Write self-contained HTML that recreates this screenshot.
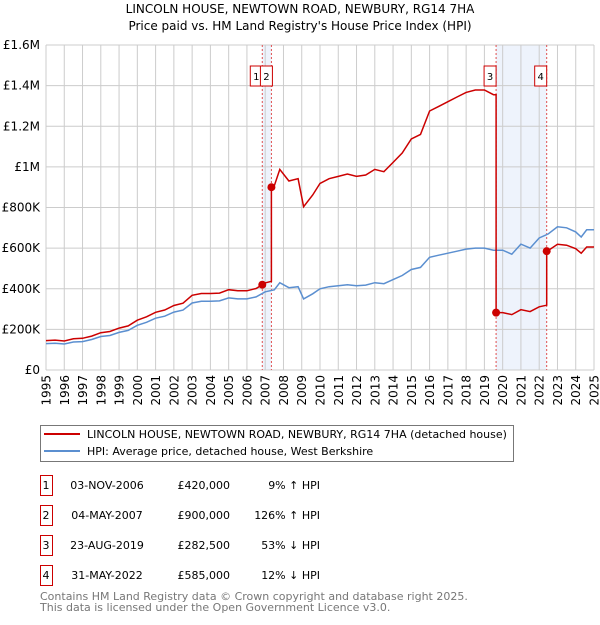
<!DOCTYPE html>
<html><head><meta charset="utf-8"><style>
body{margin:0;width:600px;height:620px;background:#fff;font-family:"Liberation Sans","DejaVu Sans",sans-serif;overflow:hidden}
svg text{font-family:"DejaVu Sans","Liberation Sans",sans-serif}
</style></head><body>
<svg id="c" width="600" height="620">
<text x="300" y="13" text-anchor="middle" font-size="12">LINCOLN HOUSE, NEWTOWN ROAD, NEWBURY, RG14 7HA</text>
<text x="300" y="30" text-anchor="middle" font-size="12">Price paid vs. HM Land Registry's House Price Index (HPI)</text>
<g id="plot"></g>
<g>
<rect x="40.5" y="425.5" width="473" height="36" fill="#fff" stroke="#777"/>
<line x1="44" y1="434" x2="80" y2="434" stroke="#cc0000" stroke-width="2"/>
<text x="87" y="438" font-size="11">LINCOLN HOUSE, NEWTOWN ROAD, NEWBURY, RG14 7HA (detached house)</text>
<line x1="44" y1="451" x2="80" y2="451" stroke="#5b8fd0" stroke-width="2"/>
<text x="87" y="455" font-size="11">HPI: Average price, detached house, West Berkshire</text>
</g>
<g id="tbl" font-size="11"></g>
<text x="40" y="600" font-size="11" fill="#777">Contains HM Land Registry data © Crown copyright and database right 2025.</text>
<text x="40" y="611" font-size="11" fill="#777">This data is licensed under the Open Government Licence v3.0.</text>
</svg>
<script>
const hpiYears=[1995,1995.5,1996,1996.5,1997,1997.5,1998,1998.5,1999,1999.5,2000,2000.5,2001,2001.5,2002,2002.5,2003,2003.5,2004,2004.5,2005,2005.5,2006,2006.5,2007,2007.5,2007.8,2008.3,2008.8,2009.1,2009.6,2010,2010.5,2011,2011.5,2012,2012.5,2013,2013.5,2014,2014.5,2015,2015.5,2016,2016.5,2017,2017.5,2018,2018.5,2019,2019.5,2020,2020.5,2021,2021.5,2022,2022.5,2023,2023.5,2024,2024.3,2024.6,2025];
const hpiValues=[130,132,128,138,140,150,165,170,185,195,220,235,255,265,285,295,330,338,338,340,355,350,350,360,385,395,430,405,410,350,375,400,410,415,420,415,418,430,425,445,465,495,505,555,565,575,585,595,600,600,590,590,570,620,600,650,670,705,700,680,655,690,690];
const saleDates=[2006.84,2007.34,2019.64,2022.41];
const salePrices=[420,900,282.5,585];
const saleLabels=["1","2","3","4"];
const saleDateText=["03-NOV-2006","04-MAY-2007","23-AUG-2019","31-MAY-2022"];
const salePriceText=["£420,000","£900,000","£282,500","£585,000"];
const saleHpiText=["9% ↑ HPI","126% ↑ HPI","53% ↓ HPI","12% ↓ HPI"];
const yTicks=[0,200,400,600,800,1000,1200,1400,1600];
const yTickLabels=["£0","£200K","£400K","£600K","£800K","£1M","£1.2M","£1.4M","£1.6M"];
const xTicks=[1995,1996,1997,1998,1999,2000,2001,2002,2003,2004,2005,2006,2007,2008,2009,2010,2011,2012,2013,2014,2015,2016,2017,2018,2019,2020,2021,2022,2023,2024,2025];

const NS="http://www.w3.org/2000/svg";
const X0=46,X1=594,Y0=370,Y1=45;
const xs=y=>X0+(y-1995)/30*(X1-X0);
const ys=v=>Y0-v/1600*(Y0-Y1);
const plot=document.getElementById('plot');
function mk(tag,attrs,parent){const e=document.createElementNS(NS,tag);for(const k in attrs)e.setAttribute(k,attrs[k]);(parent||plot).appendChild(e);return e;}
function hpiAt(t){for(let i=0;i<hpiYears.length-1;i++){if(t<=hpiYears[i+1]){const f=(t-hpiYears[i])/(hpiYears[i+1]-hpiYears[i]);return hpiValues[i]+f*(hpiValues[i+1]-hpiValues[i]);}}return hpiValues[hpiValues.length-1];}

let sh=mk('rect',{x:xs(saleDates[0]),y:Y1,width:xs(saleDates[1])-xs(saleDates[0]),height:Y0-Y1,fill:'#eef3fc'});


sh=mk('rect',{x:xs(saleDates[2]),y:Y1,width:xs(saleDates[3])-xs(saleDates[2]),height:Y0-Y1,fill:'#eef3fc'});


xTicks.forEach((t,i)=>{
  const g=mk('line',{x1:xs(t),x2:xs(t),y1:Y1,y2:Y0,stroke:'#ccc','stroke-width':1});
  
  
  const tx=mk('text',{x:0,y:0,'font-size':12,'text-anchor':'end',transform:`translate(${xs(t)+4.5},${Y0+5}) rotate(-90)`});
  tx.textContent=t;
  
  
});
yTicks.forEach((v,i)=>{
  const g=mk('line',{x1:X0,x2:X1,y1:ys(v),y2:ys(v),stroke:'#ccc','stroke-width':1});
  
  
  const tx=mk('text',{x:X0-6,y:ys(v)+4,'font-size':12,'text-anchor':'end'});
  tx.textContent=yTickLabels[i];
  
  
});
saleDates.forEach((d,i)=>{
  const l=mk('line',{x1:xs(d),x2:xs(d),y1:Y1,y2:Y0,stroke:'#e05050','stroke-width':1,'stroke-dasharray':'2,2'});
  
  
});
let pts=hpiYears.map((y,i)=>xs(y).toFixed(1)+','+ys(hpiValues[i]).toFixed(1)).join(' ');
let hl=mk('polyline',{points:pts,fill:'none',stroke:'#5b8fd0','stroke-width':1.5});


let rp=[];
function seg(t0,t1,ref,price){
  const samples=[t0].concat(hpiYears.filter(y=>y>t0&&y<t1),[t1]);
  samples.forEach(t=>rp.push([t,price*hpiAt(t)/hpiAt(ref)]));
}
seg(1995,saleDates[0],saleDates[0],salePrices[0]);
seg(saleDates[0],saleDates[1],saleDates[0],salePrices[0]);
seg(saleDates[1],saleDates[2],saleDates[1],salePrices[1]);
seg(saleDates[2],saleDates[3],saleDates[2],salePrices[2]);
seg(saleDates[3],2025,saleDates[3],salePrices[3]);
let rl=mk('polyline',{points:rp.map(p=>xs(p[0]).toFixed(1)+','+ys(p[1]).toFixed(1)).join(' '),fill:'none',stroke:'#cc0000','stroke-width':1.5});


saleDates.forEach((d,i)=>{
  const c=mk('circle',{cx:xs(d),cy:ys(salePrices[i]),r:4,fill:'#cc0000'});
  
  
  const x=i==0?xs(d)-12:(i==1?xs(d)-11:xs(d)-12);
  const b=mk('rect',{x:x,y:66,width:12,height:20,fill:'#fff',stroke:'#cc0000'});
  
  
  const t=mk('text',{x:x+6,y:80,'font-size':10,'text-anchor':'middle'});
  t.textContent=saleLabels[i];
  
  
});
const tbl=document.getElementById('tbl');
saleLabels.forEach((s,i)=>{
  const y=475+i*30;
  const b=mk('rect',{x:40.5,y:y+0.5,width:12,height:20,fill:'#fff',stroke:'#cc0000'},tbl);
  
  
  const cells=[[46,s,'middle'],[107,saleDateText[i],'middle'],[230,salePriceText[i],'end'],[320,saleHpiText[i],'end']];
  cells.forEach(c=>{
    const t=mk('text',{x:c[0],y:y+14,'text-anchor':c[2]},tbl);
    t.textContent=c[1];
    
    
  });
});
</script>
</body></html>
